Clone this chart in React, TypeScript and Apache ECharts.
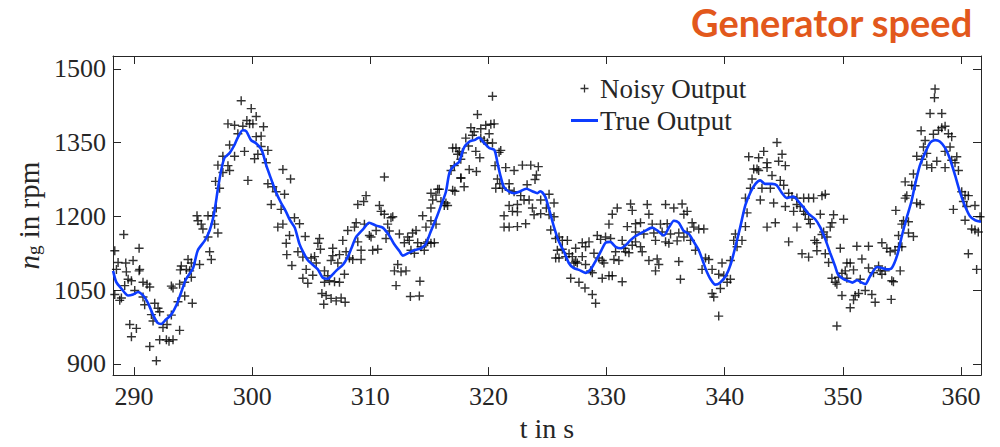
import React, { useEffect, useRef } from "react";
import * as echarts from "echarts";

// ---- axis ranges / ticks ----
const X_MIN = 288.22;
const X_MAX = 361.69;
const X_STEP = 10;
const Y_MIN = 877;
const Y_MAX = 1526;
const Y_STEP = 150;

const seriesNames = ["Noisy Output", "True Output"];
const titleText = "Generator speed";
const xName = "t in s";

// ---- true output (t in s, n_g in rpm) ----
const trueOutput: number[][] = [
  [288.23, 1089], [288.5, 1066], [288.93, 1053], [289.5, 1039], [289.92, 1041], [290.34, 1046],
  [290.76, 1039], [291.2, 1023], [291.6, 1000], [292.0, 983], [292.3, 981], [292.7, 990],
  [293.15, 1000], [293.6, 1020], [294.0, 1046], [294.4, 1072], [295.0, 1095], [295.4, 1131],
  [296.0, 1151], [296.4, 1171], [296.7, 1197], [296.9, 1224], [297.1, 1256], [297.4, 1296],
  [297.66, 1319], [298.1, 1329], [298.5, 1345], [298.8, 1361], [299.2, 1375], [299.5, 1373],
  [299.9, 1355], [300.3, 1349], [300.8, 1335], [301.2, 1303], [301.6, 1276], [302.0, 1250],
  [302.45, 1227], [302.85, 1210], [303.2, 1192], [303.6, 1177], [304.0, 1144], [304.3, 1128],
  [304.7, 1111], [305.1, 1102], [305.56, 1092], [305.98, 1075], [306.4, 1073], [306.7, 1079],
  [307.1, 1089], [307.7, 1102], [308.1, 1118], [308.4, 1135], [308.8, 1158], [309.4, 1174],
  [309.9, 1187], [310.5, 1181], [311.05, 1177], [311.6, 1161], [312.0, 1144], [312.5, 1128],
  [312.74, 1120], [313.2, 1125], [313.7, 1131], [314.3, 1135], [314.7, 1144], [315.1, 1168],
  [315.6, 1197], [316.0, 1223], [316.4, 1250], [316.7, 1289], [317.1, 1303], [317.5, 1310],
  [317.94, 1340], [318.4, 1352], [318.8, 1355], [319.2, 1360], [319.6, 1350], [320.06, 1339],
  [320.5, 1335], [320.76, 1309], [321.04, 1280], [321.3, 1260], [321.75, 1250], [322.2, 1247],
  [322.6, 1250], [323.2, 1256], [323.7, 1251], [324.14, 1247], [324.4, 1251], [324.8, 1240],
  [325.1, 1217], [325.55, 1178], [325.97, 1148], [326.4, 1128], [326.8, 1105], [327.2, 1095],
  [327.66, 1091], [328.2, 1085], [328.65, 1092], [329.07, 1109], [329.5, 1128], [329.9, 1146],
  [330.3, 1148], [330.76, 1138], [331.2, 1135], [331.6, 1141], [332.0, 1151], [332.45, 1160],
  [332.7, 1163], [333.3, 1171], [333.86, 1177], [334.3, 1171], [334.85, 1161], [335.27, 1177],
  [335.7, 1191], [336.1, 1187], [336.5, 1171], [336.96, 1164], [337.38, 1148], [337.8, 1131],
  [338.1, 1112], [338.4, 1092], [338.8, 1072], [339.2, 1061], [339.6, 1065], [340.1, 1079],
  [340.5, 1102], [340.9, 1138], [341.3, 1177], [341.75, 1223], [342.2, 1250], [342.6, 1266],
  [343.0, 1273], [343.4, 1266], [344.0, 1266], [344.4, 1263], [344.85, 1247], [345.27, 1237],
  [345.8, 1240], [346.25, 1230], [346.7, 1217], [347.1, 1205], [347.66, 1194], [348.1, 1177],
  [348.5, 1154], [348.93, 1125], [349.35, 1098], [349.6, 1081], [350.06, 1072], [350.5, 1068],
  [350.8, 1065], [351.2, 1070], [351.6, 1065], [351.9, 1062], [352.3, 1078], [352.9, 1097],
  [353.3, 1095], [353.7, 1092], [354.14, 1095], [354.6, 1121], [355.0, 1161], [355.4, 1197],
  [355.8, 1230], [356.1, 1263], [356.5, 1302], [356.96, 1329], [357.4, 1350], [357.8, 1355],
  [358.2, 1352], [358.65, 1339], [359.07, 1316], [359.5, 1283], [359.9, 1250], [360.3, 1223],
  [360.76, 1200], [361.2, 1192], [361.69, 1189],
];

// ---- noisy output, split by time span ----
const noisy288to303: number[][] = [
  [299.07, 1435], [299.92, 1419], [300.34, 1403], [299.55, 1395], [299.78, 1388], [297.95, 1388],
  [298.51, 1385], [299.21, 1383], [300.06, 1388], [300.96, 1382], [298.79, 1368], [300.34, 1362],
  [300.76, 1363], [298.09, 1345], [298.51, 1322], [299.35, 1332], [300.76, 1342], [301.33, 1334],
  [297.52, 1322], [300.2, 1317], [300.48, 1326], [297.1, 1304], [297.95, 1303], [298.09, 1293],
  [301.19, 1309], [302.6, 1295], [297.52, 1289], [299.64, 1273], [296.9, 1271], [297.24, 1257],
  [301.33, 1266], [301.75, 1260], [302.03, 1250], [302.74, 1245], [301.61, 1224], [302.45, 1214],
  [296.96, 1217], [296.68, 1201], [295.33, 1201], [296.26, 1201], [295.41, 1191], [295.69, 1184],
  [295.83, 1174], [296.82, 1184], [296.26, 1158], [297.1, 1166], [302.17, 1178], [302.6, 1184],
  [302.88, 1145], [296.4, 1128], [296.54, 1112], [302.93, 1122], [295.55, 1102], [294.85, 1105],
  [294.57, 1112], [294.0, 1099], [293.92, 1091], [294.85, 1076], [294.43, 1092], [294.71, 1089],
  [294.29, 1066], [293.86, 1062], [293.16, 1058], [293.3, 1054], [294.29, 1038], [293.72, 1026],
  [294.93, 1023], [289.13, 1163], [288.37, 1130], [290.43, 1135], [288.65, 1106], [289.92, 1110],
  [289.3, 1105], [290.48, 1092], [290.43, 1089], [289.35, 1087], [288.51, 1092], [289.5, 1072],
  [289.78, 1069], [290.76, 1066], [291.1, 1062], [291.33, 1056], [289.21, 1059], [290.06, 1049],
  [288.93, 1034], [288.79, 1029], [288.37, 1041], [290.76, 1036], [290.9, 1020], [291.75, 1023],
  [292.03, 1013], [291.47, 1000], [292.17, 1006], [291.61, 987], [293.16, 999], [292.45, 974],
  [292.79, 980], [289.64, 980], [290.2, 972], [289.78, 955], [293.86, 968], [292.17, 949],
  [292.74, 949], [293.3, 949], [291.33, 935], [291.89, 906], [292.96, 946],
];

const noisy303to318: number[][] = [
  [303.25, 1276], [303.58, 1197], [304.01, 1185], [303.16, 1161], [303.87, 1128], [304.49, 1159],
  [303.36, 1100], [304.29, 1117], [304.57, 1092], [304.29, 1074], [304.71, 1064], [305.13, 1080],
  [304.99, 1115], [305.28, 1118], [305.56, 1145], [305.7, 1155], [305.78, 1133], [305.42, 1105],
  [306.12, 1089], [306.12, 1066], [306.54, 1069], [306.97, 1067], [307.39, 1066], [306.4, 1079],
  [305.9, 1043], [306.26, 1039], [306.06, 1021], [306.68, 1033], [307.11, 1028], [307.53, 1034],
  [307.87, 1025], [307.81, 1082], [307.25, 1105], [306.82, 1120], [306.68, 1110], [307.39, 1122],
  [306.82, 1135], [307.67, 1151], [308.09, 1171], [307.95, 1128], [308.23, 1115], [308.51, 1112],
  [308.94, 1148], [309.22, 1131], [309.22, 1112], [308.66, 1178], [308.8, 1187], [308.94, 1224],
  [309.44, 1230], [309.64, 1242], [309.5, 1184], [309.92, 1161], [310.06, 1158], [310.2, 1131],
  [310.63, 1133], [310.49, 1171], [310.77, 1222], [310.91, 1210], [311.19, 1204], [311.19, 1280],
  [311.47, 1184], [311.61, 1170], [311.75, 1197], [311.9, 1199], [311.33, 1155], [312.04, 1089],
  [312.32, 1102], [312.6, 1087], [313.02, 1089], [312.18, 1059], [312.46, 1164], [312.88, 1146],
  [313.16, 1158], [313.3, 1151], [313.58, 1166], [313.87, 1171], [313.44, 1131], [314.01, 1146],
  [313.73, 1125], [314.29, 1138], [314.57, 1131], [314.71, 1145], [314.85, 1148], [315.13, 1145],
  [315.42, 1146], [314.2, 1068], [313.39, 1037], [314.15, 1038], [314.43, 1201], [314.71, 1178],
  [315.13, 1191], [315.13, 1217], [315.56, 1184], [315.28, 1233], [315.56, 1243], [315.7, 1255],
  [315.84, 1255], [315.13, 1247], [315.98, 1230], [316.26, 1222], [316.54, 1222], [316.4, 1227],
  [316.97, 1253], [317.16, 1251], [317.67, 1278], [317.11, 1303], [316.83, 1293], [316.97, 1339],
  [317.25, 1339], [317.39, 1326], [317.53, 1332],
];

const noisy318to332: number[][] = [
  [320.34, 1444], [319.07, 1407], [318.51, 1380], [318.79, 1372], [319.35, 1378], [319.77, 1385],
  [320.2, 1387], [320.48, 1388], [320.06, 1368], [318.08, 1359], [318.65, 1365], [319.35, 1359],
  [319.63, 1354], [319.91, 1349], [320.34, 1349], [318.31, 1343], [318.93, 1332], [319.27, 1319],
  [317.8, 1329], [317.66, 1316], [320.9, 1330], [321.04, 1334], [318.37, 1295], [318.98, 1291],
  [317.66, 1278], [317.94, 1260], [320.56, 1303], [321.46, 1299], [322.17, 1293], [322.87, 1304],
  [323.58, 1304], [324.22, 1301], [324.06, 1284], [323.94, 1275], [320.76, 1276], [320.96, 1266],
  [320.62, 1257], [321.18, 1257], [321.75, 1266], [321.75, 1253], [322.17, 1250], [323.27, 1264],
  [322.73, 1242], [323.01, 1233], [323.44, 1233], [324.42, 1233], [325.13, 1245], [325.55, 1227],
  [322.45, 1224], [321.75, 1222], [322.03, 1210], [322.45, 1209], [321.32, 1201], [323.72, 1217],
  [323.86, 1203], [324.42, 1205], [324.9, 1217], [325.13, 1203], [325.55, 1199], [321.32, 1178],
  [321.75, 1178], [322.45, 1179], [323.15, 1185], [325.27, 1172], [325.69, 1155], [325.97, 1158],
  [326.25, 1151], [326.68, 1151], [325.83, 1131], [326.25, 1133], [325.69, 1115], [325.97, 1115],
  [326.53, 1118], [326.82, 1124], [327.1, 1118], [327.38, 1135], [327.24, 1105], [327.38, 1108],
  [327.52, 1105], [327.94, 1146], [328.22, 1138], [328.51, 1148], [328.93, 1125], [327.94, 1118],
  [328.22, 1102], [328.79, 1085], [328.65, 1089], [329.35, 1115], [329.63, 1110], [329.77, 1105],
  [329.21, 1161], [329.49, 1153], [329.91, 1158], [330.34, 1155], [326.96, 1074], [327.66, 1066],
  [328.17, 1054], [328.79, 1041], [329.07, 1023], [329.63, 1074], [330.2, 1079], [330.48, 1079],
  [331.32, 1067], [330.2, 1184], [330.48, 1204], [330.9, 1217], [332.03, 1225], [332.17, 1212],
  [331.75, 1179], [332.45, 1185], [332.45, 1168], [331.32, 1151], [330.76, 1128], [330.62, 1112],
  [331.04, 1110], [331.46, 1135], [331.6, 1128], [331.89, 1126], [332.17, 1141], [332.45, 1148],
];

const noisy332to347: number[][] = [
  [333.44, 1224], [334.99, 1224], [335.69, 1217], [336.39, 1225], [336.54, 1204], [336.82, 1210],
  [333.58, 1204], [332.87, 1187], [333.86, 1184], [334.56, 1184], [335.13, 1185], [333.15, 1164],
  [334.0, 1166], [334.7, 1168], [335.41, 1164], [336.11, 1166], [336.82, 1168], [337.24, 1187],
  [337.38, 1178], [337.8, 1174], [338.23, 1174], [332.87, 1138], [333.01, 1128], [334.14, 1151],
  [334.99, 1148], [335.27, 1145], [335.97, 1150], [336.54, 1158], [337.1, 1151], [337.52, 1131],
  [338.37, 1115], [338.65, 1112], [333.58, 1110], [334.28, 1113], [334.42, 1102], [334.14, 1089],
  [336.11, 1108], [336.25, 1072], [338.08, 1092], [338.93, 1092], [339.77, 1105], [339.49, 1082],
  [339.92, 1079], [340.2, 1066], [340.48, 1072], [340.48, 1110], [340.76, 1151], [341.04, 1138],
  [340.9, 1164], [341.46, 1151], [341.75, 1179], [341.89, 1207], [341.75, 1237], [342.17, 1257],
  [342.31, 1276], [342.45, 1296], [342.73, 1296], [342.87, 1293], [342.03, 1321], [342.87, 1319],
  [343.3, 1332], [343.58, 1309], [343.58, 1299], [344.0, 1283], [344.85, 1326], [344.56, 1312],
  [345.13, 1303], [344.42, 1350], [344.7, 1273], [344.99, 1263], [343.15, 1257], [343.86, 1257],
  [344.14, 1227], [345.41, 1247], [345.69, 1240], [346.11, 1237], [346.68, 1237], [347.1, 1237],
  [345.13, 1220], [345.83, 1210], [346.11, 1224], [346.39, 1220], [346.68, 1210], [346.82, 1204],
  [347.1, 1194], [347.24, 1185], [346.11, 1178], [344.28, 1187], [343.58, 1178], [345.41, 1148],
  [346.54, 1124], [347.1, 1117], [339.07, 1036], [338.93, 1043], [339.63, 1053], [339.49, 997],
  [343.01, 1233],
];

const noisy347to362: number[][] = [
  [347.52, 1237], [348.23, 1242], [348.51, 1245], [348.09, 1204], [349.21, 1203], [349.07, 1187],
  [350.06, 1194], [348.93, 1178], [348.37, 1168], [348.23, 1163], [348.65, 1158], [347.61, 1151],
  [347.8, 1146], [347.8, 1130], [348.51, 1124], [349.78, 1135], [351.18, 1139], [352.17, 1139],
  [353.3, 1146], [353.72, 1135], [354.0, 1128], [354.42, 1131], [354.71, 1138], [351.61, 1113],
  [350.34, 1105], [350.62, 1105], [350.9, 1091], [350.2, 1089], [349.92, 1084], [349.63, 1076],
  [350.34, 1074], [349.07, 1074], [349.35, 1066], [349.49, 1062], [348.79, 1106], [352.17, 1095],
  [353.02, 1099], [353.16, 1089], [352.59, 1085], [353.3, 1082], [353.58, 1089], [354.14, 1069],
  [354.28, 1067], [354.85, 1089], [351.47, 1072], [351.33, 1043], [351.04, 1039], [351.89, 1049],
  [352.45, 1041], [352.73, 1025], [354.09, 1031], [350.9, 1030], [350.62, 1014], [349.92, 1039],
  [349.49, 977], [354.48, 1212], [354.71, 1161], [354.99, 1184], [355.13, 1191], [355.55, 1189],
  [355.55, 1166], [355.97, 1159], [354.99, 1138], [355.27, 1237], [355.41, 1242], [355.27, 1270],
  [355.97, 1286], [355.83, 1263], [356.11, 1262], [356.25, 1227], [356.54, 1224], [356.25, 1322],
  [356.68, 1316], [357.1, 1328], [356.96, 1354], [356.82, 1341], [356.62, 1374], [357.1, 1304],
  [357.52, 1299], [357.95, 1312], [357.38, 1409], [357.8, 1459], [357.75, 1441], [358.37, 1409],
  [358.09, 1375], [358.37, 1380], [358.65, 1383], [357.66, 1367], [358.65, 1332], [358.93, 1368],
  [359.21, 1362], [359.07, 1341], [359.21, 1314], [359.64, 1321], [359.49, 1309], [358.65, 1299],
  [359.78, 1293], [359.35, 1214], [360.06, 1250], [360.34, 1243], [360.62, 1242], [360.2, 1230],
  [360.48, 1220], [361.18, 1222], [360.34, 1192], [360.9, 1174], [361.18, 1172], [361.46, 1168],
  [361.61, 1199], [360.62, 1124], [361.32, 1092],
];

const noisyOutput = [
  ...noisy288to303,
  ...noisy303to318,
  ...noisy318to332,
  ...noisy332to347,
  ...noisy347to362,
];

const PLUS = "path://M4.2,0H5.8V4.2H10V5.8H5.8V10H4.2V5.8H0V4.2H4.2Z";
const BAR = "path://M0,0H27V3H0Z";
const AXIS = "#262626";
const SERIF = '"Liberation Serif", "DejaVu Serif", serif';
const BLUE = "#0d3cff";

const isStep = (v: number, s: number) => Math.abs(v / s - Math.round(v / s)) < 1e-6;

function buildOption() {
  const tickLabel = {
    fontSize: 26,
    fontFamily: SERIF,
    color: AXIS,
  };
  const commonLine = { show: true, onZero: false, lineStyle: { color: AXIS, width: 1 } };
  const commonTick = { show: true, inside: true, length: 8, lineStyle: { color: AXIS, width: 1 } };
  return {
    animation: false,
    backgroundColor: "#ffffff",
    title: {
      text: titleText,
      right: 22,
      top: -2,
      textStyle: {
        color: "#e2581c",
        fontWeight: "bold",
        fontFamily: "Lato, 'Open Sans', sans-serif",
        fontSize: 38,
      },
    },
    legend: {
      orient: "vertical",
      left: 566,
      top: 70,
      itemWidth: 27,
      itemHeight: 8,
      itemGap: 5,
      selectedMode: false,
      data: [
        { name: seriesNames[0], icon: PLUS },
        { name: seriesNames[1], icon: BAR },
      ],
      textStyle: { fontSize: 27, fontFamily: SERIF, color: AXIS, padding: [0, 0, 0, -3] },
    },
    grid: { left: 113, right: 19, top: 56, bottom: 62, containLabel: false },
    xAxis: [
      {
        type: "value",
        position: "bottom",
        min: X_MIN,
        max: X_MAX,
        minInterval: X_STEP,
        maxInterval: X_STEP,
        splitNumber: 7,
        axisLine: commonLine,
        axisTick: commonTick,
        splitLine: { show: false },
        axisLabel: {
          ...tickLabel,
          margin: 8,
          formatter: (v: number) => (isStep(v, X_STEP) ? String(Math.round(v)) : ""),
        },
        name: xName,
        nameLocation: "middle",
        nameGap: 35,
        nameTextStyle: { fontSize: 28, fontFamily: SERIF, color: AXIS },
      },
      {
        type: "value",
        position: "top",
        min: X_MIN,
        max: X_MAX,
        minInterval: X_STEP,
        maxInterval: X_STEP,
        splitNumber: 7,
        axisLine: commonLine,
        axisTick: commonTick,
        splitLine: { show: false },
        axisLabel: { show: false },
      },
    ],
    yAxis: [
      {
        type: "value",
        position: "left",
        min: Y_MIN,
        max: Y_MAX,
        minInterval: Y_STEP,
        maxInterval: Y_STEP,
        axisLine: commonLine,
        axisTick: commonTick,
        splitLine: { show: false },
        axisLabel: {
          ...tickLabel,
          margin: 7,
          formatter: (v: number) => (isStep(v, Y_STEP) ? String(Math.round(v)) : ""),
        },
        name: "{it|n}{sub|g} in rpm",
        nameLocation: "middle",
        nameGap: 66,
        nameTextStyle: {
          fontSize: 29,
          fontFamily: SERIF,
          color: AXIS,
          rich: {
            it: { fontSize: 29, fontFamily: SERIF, fontStyle: "italic", color: AXIS },
            sub: { fontSize: 19, fontFamily: SERIF, color: AXIS, verticalAlign: "bottom", lineHeight: 14 },
          },
        },
      },
      {
        type: "value",
        position: "right",
        min: Y_MIN,
        max: Y_MAX,
        minInterval: Y_STEP,
        maxInterval: Y_STEP,
        axisLine: commonLine,
        axisTick: commonTick,
        splitLine: { show: false },
        axisLabel: { show: false },
      },
    ],
    series: [
      {
        name: seriesNames[0],
        type: "scatter",
        xAxisIndex: 0,
        yAxisIndex: 0,
        data: noisyOutput,
        symbol: PLUS,
        symbolSize: 9,
        itemStyle: { color: "#000000" },
        z: 2,
      },
      {
        name: seriesNames[1],
        type: "line",
        xAxisIndex: 0,
        yAxisIndex: 0,
        data: trueOutput,
        showSymbol: false,
        symbol: "none",
        smooth: 0.25,
        color: BLUE,
        itemStyle: { color: BLUE },
        lineStyle: { color: BLUE, width: 2.6 },
        z: 3,
      },
    ],
  };
}

export default function App() {
  const ref = useRef<HTMLDivElement>(null);
  useEffect(() => {
    if (!ref.current) return;
    const chart = echarts.init(ref.current, null, { renderer: "svg" });
    chart.setOption(buildOption() as any);
    return () => chart.dispose();
  }, []);
  return (
    <div
      ref={ref}
      style={{ position: "absolute", left: 0, top: 0, width: 1000, height: 447, background: "#fff" }}
    />
  );
}
